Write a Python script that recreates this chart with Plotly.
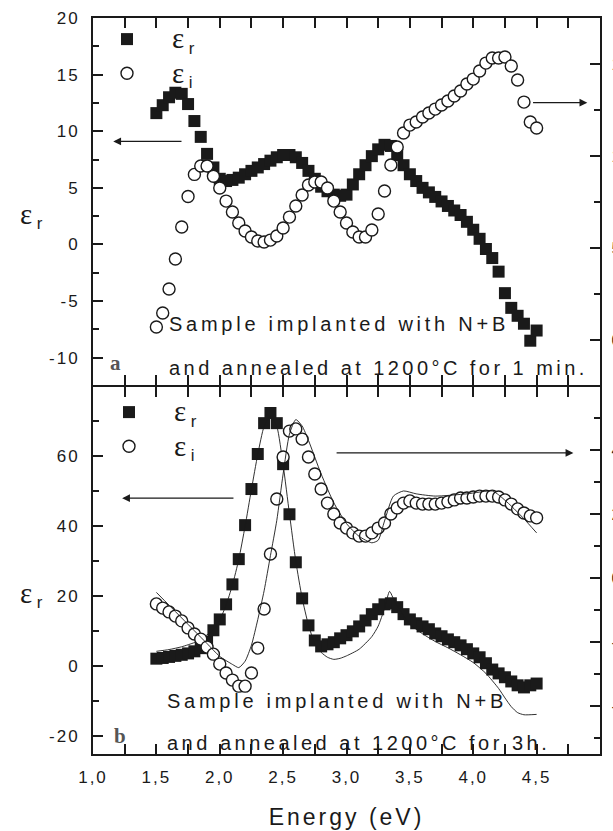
import plotly.graph_objects as go

# ---------------- data ----------------
energy = [1.50, 1.55, 1.60, 1.65, 1.70, 1.75, 1.80, 1.85, 1.90, 1.95,
          2.00, 2.05, 2.10, 2.15, 2.20, 2.25, 2.30, 2.35, 2.40, 2.45,
          2.50, 2.55, 2.60, 2.65, 2.70, 2.75, 2.80, 2.85, 2.90, 2.95,
          3.00, 3.05, 3.10, 3.15, 3.20, 3.25, 3.30, 3.35, 3.40, 3.45,
          3.50, 3.55, 3.60, 3.65, 3.70, 3.75, 3.80, 3.85, 3.90, 3.95,
          4.00, 4.05, 4.10, 4.15, 4.20, 4.25, 4.30, 4.35, 4.40, 4.45, 4.50]

# panel a (N+B, 1200 C 1 min)
eps_r_a = [11.6, 12.3, 13.0, 13.4, 13.3, 12.4, 10.9, 9.5, 8.0, 6.8,
           5.8, 5.6, 5.7, 5.9, 6.2, 6.5, 6.8, 7.1, 7.4, 7.7,
           7.9, 7.9, 7.7, 7.2, 6.5, 5.8, 5.1, 4.7, 4.4, 4.3,
           4.4, 5.3, 6.2, 7.0, 7.8, 8.4, 8.8, 8.7, 7.9, 7.0,
           6.2, 5.6, 5.0, 4.6, 4.2, 3.8, 3.4, 3.0, 2.6, 2.0,
           1.3, 0.5, -0.4, -1.2, -2.4, -4.3, -5.6, -6.3, -7.0, -8.5, -7.6]
eps_i_a = [0.71, 1.47, 2.77, 4.40, 6.14, 7.80, 9.00, 9.46, 9.46, 8.90,
           8.26, 7.55, 6.96, 6.36, 5.92, 5.60, 5.38, 5.33, 5.43, 5.65,
           6.09, 6.68, 7.28, 7.88, 8.42, 8.59, 8.59, 8.26, 7.55, 6.96,
           6.36, 5.87, 5.60, 5.60, 5.98, 6.85, 8.10, 9.51, 10.49, 11.25,
           11.68, 11.85, 12.12, 12.34, 12.55, 12.77, 12.99, 13.26, 13.53, 13.91,
           14.18, 14.62, 15.05, 15.33, 15.33, 15.38, 14.89, 14.13, 12.93, 11.85, 11.52]

# panel b (N+B, 1200 C 3 h)
eps_r_b = [2.2, 2.4, 2.7, 3.0, 3.3, 3.7, 4.3, 5.2, 7.0, 10.3,
           13.4, 17.7, 23.4, 30.6, 40.3, 50.6, 60.6, 69.4, 72.3, 69.4,
           57.7, 43.4, 29.7, 19.4, 11.7, 7.4, 5.7, 6.3, 6.9, 8.0,
           8.9, 10.0, 11.4, 13.1, 14.9, 16.3, 17.7, 18.0, 16.9, 14.9,
           13.4, 12.3, 11.4, 10.6, 9.4, 8.6, 7.7, 6.9, 6.0, 4.9,
           3.7, 2.6, 0.9, -0.9, -2.0, -3.1, -4.3, -5.4, -6.0, -5.4, -4.9]
eps_i_b = [-8.1, -9.4, -10.6, -11.9, -13.4, -15.6, -17.5, -19.1, -21.6, -23.8,
           -26.9, -29.7, -31.9, -33.8, -33.8, -29.7, -21.9, -9.7, 7.5, 24.7,
           37.8, 45.9, 46.6, 43.4, 37.8, 32.5, 27.8, 23.4, 20.0, 17.2,
           15.6, 14.1, 13.1, 13.1, 14.1, 15.6, 17.2, 20.0, 21.9, 23.4,
           24.1, 23.4, 23.1, 23.1, 23.1, 23.4, 23.8, 24.4, 25.0, 25.0,
           25.3, 25.6, 25.6, 25.6, 25.3, 24.4, 23.1, 21.6, 20.3, 19.4, 18.8]

# model fits (thin lines, panel b)
fit_r_energy = [1.5, 1.6, 1.7, 1.8, 1.85, 1.9, 1.95, 2.0, 2.05, 2.1, 2.15, 2.2,
                2.25, 2.3, 2.35, 2.4, 2.45, 2.5, 2.55, 2.6, 2.65, 2.7, 2.75,
                2.8, 2.85, 2.9, 2.95, 3.0, 3.1, 3.2, 3.25, 3.3, 3.34, 3.38,
                3.45, 3.5, 3.6, 3.7, 3.8, 3.9, 4.0, 4.1, 4.2, 4.25, 4.3,
                4.35, 4.4, 4.5]
fit_r_b = [4.3, 4.8, 5.6, 6.8, 7.7, 9.0, 10.5, 13.2, 17.5, 23.2, 30.5, 40.0,
           50.5, 60.5, 68.5, 71.5, 68.5, 57.5, 43.5, 30.0, 19.5, 11.8, 6.5,
           4.0, 2.6, 2.0, 2.3, 3.0, 4.9, 8.5, 11.5, 16.5, 21.4, 18.5,
           14.5, 12.0, 9.3, 7.1, 5.3, 3.3, 1.1, -2.0, -6.3, -9.0, -11.5,
           -13.2, -13.8, -13.7]
fit_i_energy = [1.5, 1.6, 1.7, 1.8, 1.9, 2.0, 2.1, 2.15, 2.2, 2.25, 2.3, 2.35,
                2.4, 2.45, 2.5, 2.55, 2.6, 2.65, 2.7, 2.8, 2.9, 3.0, 3.1,
                3.2, 3.25, 3.3, 3.37, 3.45, 3.55, 3.7, 3.95, 4.15, 4.2,
                4.3, 4.4, 4.5]
fit_i_b = [-4.5, -8.5, -12.5, -16.5, -20.5, -24.5, -27.0, -28.0, -26.0, -21.0,
           -13.0, -4.0, 7.0, 18.0, 32.5, 45.0, 49.5, 47.5, 43.0, 32.5, 23.5,
           17.0, 13.0, 11.0, 11.8, 17.8, 25.6, 27.2, 26.3, 25.6, 26.3, 27.2,
           26.0, 22.5, 18.5, 14.1]

# tick labels
x_tick_vals = [1.0, 1.5, 2.0, 2.5, 3.0, 3.5, 4.0, 4.5, 5.0]
x_tick_labels = ["1,0", "1,5", "2,0", "2,5", "3,0", "3,5", "4,0", "4,5", "5,0"]
ya_tick_vals = [-10, -5, 0, 5, 10, 15, 20]
yb_tick_vals = [-20, 0, 20, 40, 60]
ya2_tick_vals = [0, 5, 10, 15]
yb2_tick_vals = [-40, -20, 0, 20, 40]

text_a = ["Sample implanted with N+B", "and annealed at 1200°C for 1 min."]
text_b = ["Sample implanted with N+B", "and annealed at 1200°C for 3h."]

# ---------------- style ----------------
SANS = "Liberation Sans, Arial, Helvetica, sans-serif"
SERIF = "Liberation Serif, Times New Roman, serif"
INK = "#1a1a1a"


def sp(t, px):
    return f"<span style='letter-spacing:{px}px'>{t}</span>"


def eps(sub):
    return ("<span style='font-size:29px'>ε</span>"
            f"<sub><span style='font-family:Liberation Sans'> {sub}</span></sub>")


W, H = 613, 831
X0, X1 = 93, 600
YA0, YA1 = 18, 385
YB0, YB1 = 387, 754


def fx(px):
    return px / W


def fy(py):
    return 1 - py / H


fig = go.Figure()

sq = dict(symbol="square", size=12, color=INK, line=dict(width=0))
ci = dict(symbol="circle", size=12, color="white", line=dict(width=1.4, color=INK))

fig.add_trace(go.Scatter(x=energy, y=eps_r_a, mode="markers", marker=sq,
                         name=eps("r"), xaxis="x", yaxis="y", legend="legend"))
fig.add_trace(go.Scatter(x=energy, y=eps_i_a, mode="markers", marker=ci,
                         name=eps("i"), xaxis="x", yaxis="y2", legend="legend"))
fig.add_trace(go.Scatter(x=energy, y=eps_r_b, mode="markers", marker=sq,
                         name=eps("r"), xaxis="x2", yaxis="y3", legend="legend2"))
fig.add_trace(go.Scatter(x=energy, y=eps_i_b, mode="markers", marker=ci,
                         name=eps("i"), xaxis="x2", yaxis="y4", legend="legend2"))
fig.add_trace(go.Scatter(x=fit_r_energy, y=fit_r_b, mode="lines",
                         line=dict(color=INK, width=0.9, shape="spline", smoothing=0.6),
                         showlegend=False, xaxis="x2", yaxis="y3"))
fig.add_trace(go.Scatter(x=fit_i_energy, y=fit_i_b, mode="lines",
                         line=dict(color=INK, width=0.9, shape="spline", smoothing=0.6),
                         showlegend=False, xaxis="x2", yaxis="y4"))

tickfont = dict(family=SANS, size=17, color=INK)
common = dict(showline=True, linewidth=2, linecolor=INK, ticks="inside",
              tickwidth=1.5, tickcolor=INK, ticklen=10, showgrid=False,
              zeroline=False, tickfont=tickfont, automargin=False)

xdom = [fx(X0), fx(X1)]
xcommon = dict(common, range=[1, 5], tickmode="array", tickvals=x_tick_vals,
               mirror="allticks",
               minor=dict(dtick=0.25, tick0=1, ticklen=6, tickwidth=1.5,
                          ticks="inside", tickcolor=INK))


def ymin(d):
    return dict(tickmode="linear", tick0=0, dtick=d, ticklen=6,
                tickwidth=1.5, ticks="inside", tickcolor=INK)


# axis ranges follow the pixel extents of each panel
ya_range = [-12.5 + (386 - YA1) / 11.33, 20]
yb_range = [-25, 80 - (YB0 - 386) / 3.5]
ya2_range = [-2.5 + (386 - YA1) / 18.4, 17.5]
yb2_range = [-55, 60 - (YB0 - 386) / 3.2]

fig.update_layout(
    width=W, height=H, template="none",
    margin=dict(l=0, r=0, t=0, b=0),
    paper_bgcolor="white", plot_bgcolor="rgba(0,0,0,0)",
    font=dict(family=SANS, color=INK),
    xaxis=dict(xcommon, domain=xdom, anchor="y", showticklabels=False),
    xaxis2=dict(xcommon, domain=xdom, anchor="y3", ticklabelstandoff=7,
                ticktext=[sp(t, 2) for t in x_tick_labels],
                title=dict(text=sp("Energy (eV)", 3),
                           font=dict(family=SANS, size=23, color=INK), standoff=22)),
    yaxis=dict(common, domain=[fy(YA1), fy(YA0)], anchor="x", range=ya_range,
               tickmode="array", tickvals=ya_tick_vals, ticklabelstandoff=8,
               ticktext=[sp(str(v), 2) for v in ya_tick_vals], minor=ymin(2.5)),
    yaxis2=dict(common, overlaying="y", side="right", anchor="x", range=ya2_range,
                tickmode="array", tickvals=ya2_tick_vals, ticklabelstandoff=6,
                ticktext=[sp(str(v), 2) for v in ya2_tick_vals], minor=ymin(2.5)),
    yaxis3=dict(common, domain=[fy(YB1), fy(YB0)], anchor="x2", range=yb_range,
                tickmode="array", tickvals=yb_tick_vals, ticklabelstandoff=8,
                ticktext=[sp(str(v), 2) for v in yb_tick_vals], minor=ymin(10)),
    yaxis4=dict(common, overlaying="y3", side="right", anchor="x2", range=yb2_range,
                tickmode="array", tickvals=yb2_tick_vals, ticklabelstandoff=6,
                ticktext=[sp(str(v), 2) for v in yb2_tick_vals], minor=ymin(10)),
    legend=dict(x=fx(82), y=fy(17), xanchor="left", yanchor="top",
                bgcolor="rgba(0,0,0,0)", borderwidth=0, itemwidth=80,
                font=dict(family=SERIF, size=24, color=INK)),
    legend2=dict(x=fx(84), y=fy(390), xanchor="left", yanchor="top",
                 bgcolor="rgba(0,0,0,0)", borderwidth=0, itemwidth=80,
                 font=dict(family=SERIF, size=24, color=INK)),
)

anns = []
# y-axis titles
for ypx in (216, 594):
    anns.append(dict(xref="paper", yref="paper", x=fx(31), y=fy(ypx),
                     xanchor="center", yanchor="middle",
                     text=eps("r"), showarrow=False,
                     font=dict(family=SERIF, size=24, color=INK)))
# sample descriptions
txtfont = dict(family=SANS, size=20, color=INK)
anns.append(dict(xref="x", yref="y", x=1.585, y=-7.0, xanchor="left",
                 text=sp(text_a[0], 3.75), showarrow=False, font=txtfont))
anns.append(dict(xref="x", yref="y", x=1.585, y=-10.9, xanchor="left",
                 text=sp(text_a[1], 3.45), showarrow=False, font=txtfont))
anns.append(dict(xref="x2", yref="y3", x=1.57, y=-10.0, xanchor="left",
                 text=sp(text_b[0], 3.75), showarrow=False, font=txtfont))
anns.append(dict(xref="x2", yref="y3", x=1.57, y=-22.0, xanchor="left",
                 text=sp(text_b[1], 3.5), showarrow=False, font=txtfont))
# panel letters
anns.append(dict(xref="x", yref="y", x=1.175, y=-10.5, text="<b>a</b>",
                 showarrow=False, font=dict(family=SERIF, size=21, color="#555")))
anns.append(dict(xref="x2", yref="y3", x=1.215, y=-20, text="<b>b</b>",
                 showarrow=False, font=dict(family=SERIF, size=21, color="#555")))
# axis arrows
arrow = dict(text="", showarrow=True, arrowhead=2, arrowsize=1.3, arrowwidth=1.2,
             arrowcolor=INK, standoff=0, startstandoff=0)
anns.append(dict(arrow, xref="x", yref="y", axref="x", ayref="y",
                 x=1.16, y=9.1, ax=1.71, ay=9.1))
anns.append(dict(arrow, xref="x", yref="y2", axref="x", ayref="y2",
                 x=4.90, y=12.9, ax=4.46, ay=12.9))
anns.append(dict(arrow, xref="x2", yref="y3", axref="x2", ayref="y3",
                 x=1.23, y=48.0, ax=2.12, ay=48.0))
anns.append(dict(arrow, xref="x2", yref="y4", axref="x2", ayref="y4",
                 x=4.79, y=39.1, ax=2.91, ay=39.1))
fig.update_layout(annotations=anns)

fig.write_html("out.html")
